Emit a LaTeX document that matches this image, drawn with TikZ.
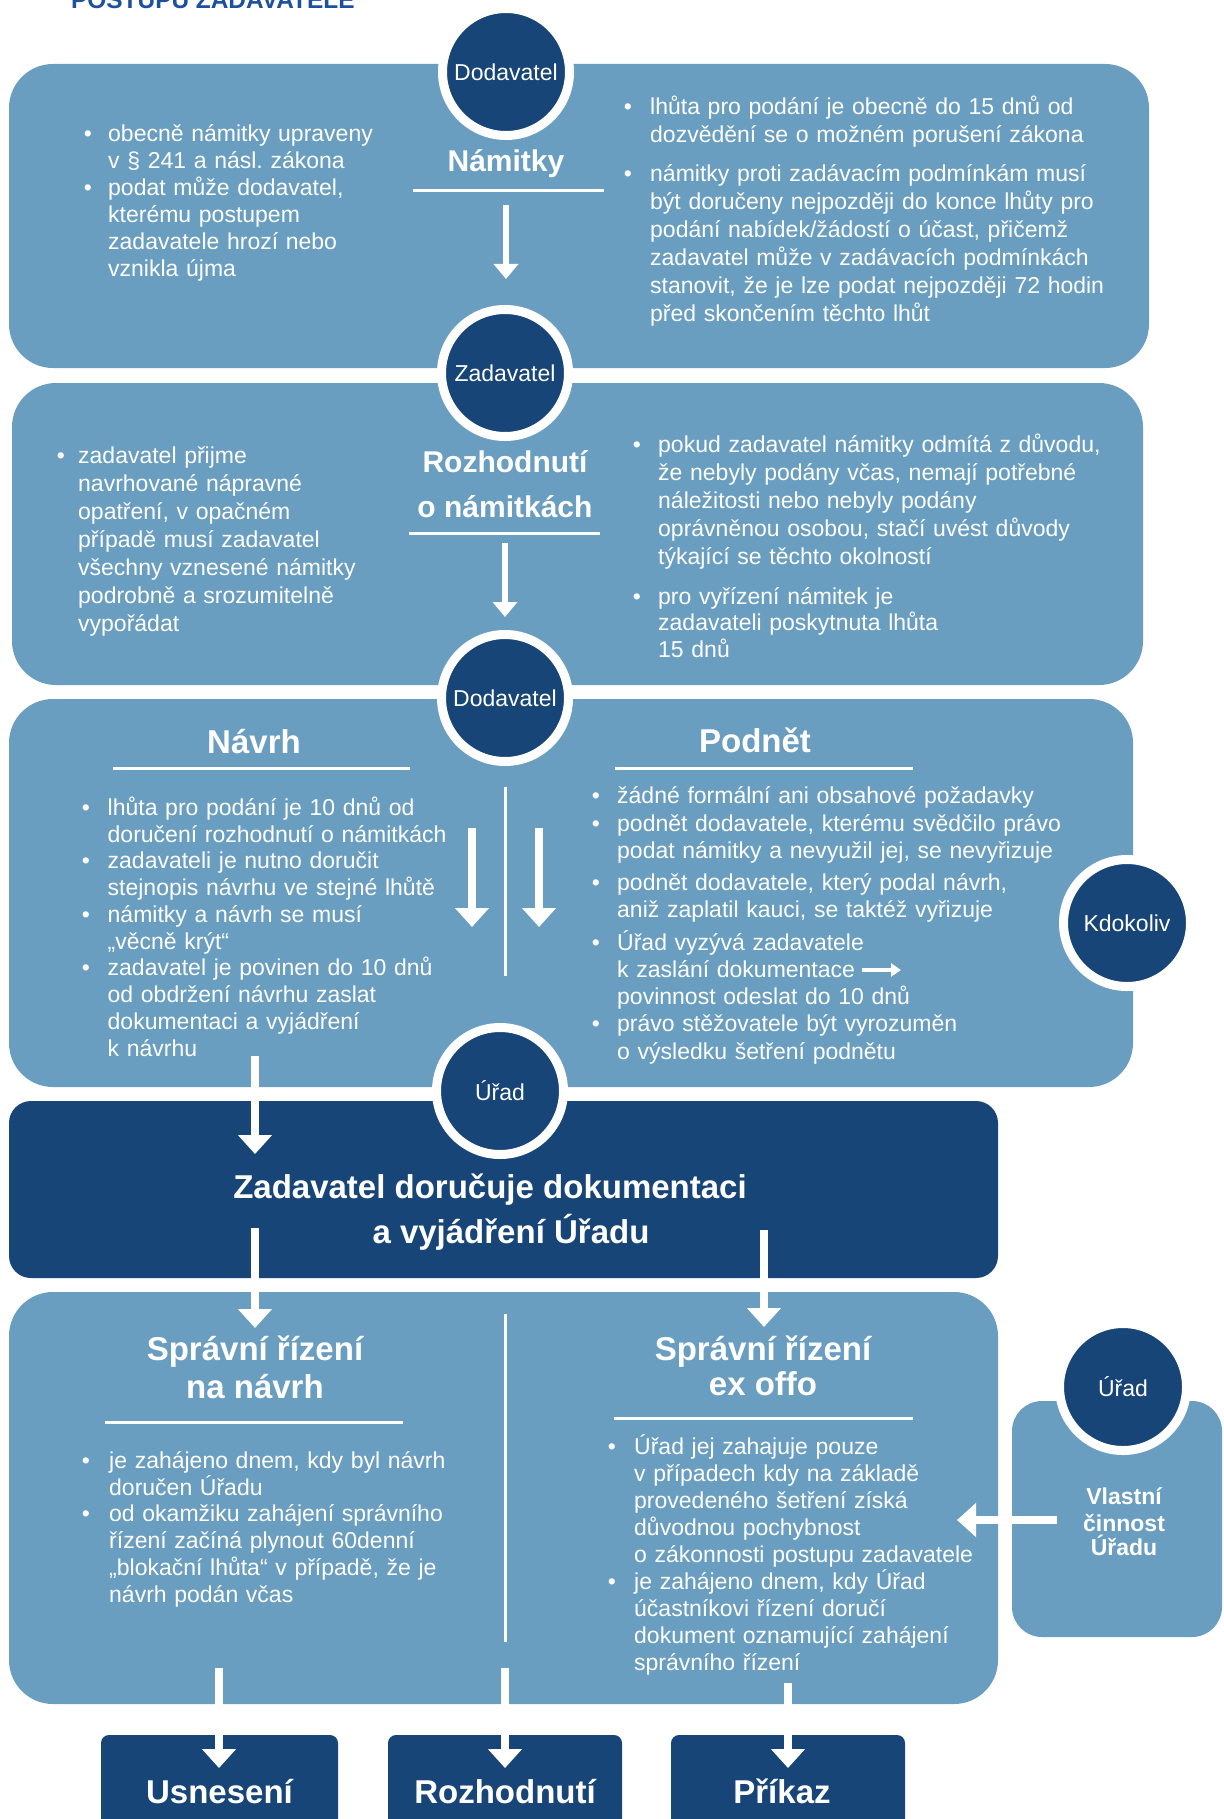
\documentclass[tikz,border=0pt]{standalone}
\usepackage{fontspec}
\setmainfont{Liberation Sans}
\usetikzlibrary{arrows.meta}
\definecolor{panelblue}{HTML}{6A9EC0}
\definecolor{navy}{HTML}{174577}
\definecolor{titleblue}{HTML}{1E50A0}
\tikzset{
  pnl/.style={fill=panelblue, rounded corners=44pt},
  darkpnl/.style={fill=navy, rounded corners=22pt},
  outbox/.style={fill=navy, rounded corners=8pt},
  actor/.style={circle, fill=navy, draw=white, line width=9pt, minimum size=127pt, inner sep=0pt, text=white, font=\fontsize{23}{27}\selectfont},
  bd/.style={text=white, inner sep=0pt, anchor=base west, align=left, text width=520pt, font=\fontsize{23}{27}\selectfont},
  bdb/.style={text=white, inner sep=0pt, anchor=base, font=\fontsize{23}{27}\selectfont},
  hd/.style={text=white, inner sep=0pt, anchor=base, font=\bfseries\fontsize{33}{38}\selectfont},
  hdS/.style={text=white, inner sep=0pt, anchor=base, font=\bfseries\fontsize{30}{36}\selectfont},
  hdV/.style={text=white, inner sep=0pt, anchor=base, font=\bfseries\fontsize{23}{27}\selectfont},
  wrule/.style={white, line width=3pt},
  arrS/.style={white, line width=6pt, -{Triangle[width=24pt,length=15pt]}},
  arrL/.style={white, line width=8pt, -{Triangle[width=33pt,length=19pt]}},
  arrT/.style={white, line width=4pt, -{Triangle[width=13pt,length=10pt]}},
  ls28/.style={font=\fontsize{23}{28}\selectfont},
  ls26/.style={font=\fontsize{23}{26.5}\selectfont},
}
\newcommand\bitemx[6][]{%
  \node[bdb,#1] (#2b) at (#3,#5) {\textbullet};
  \node[bd,#1] (#2) at (#4,#5) {#6};}
\begin{document}
\begin{tikzpicture}[x=1pt,y=-1pt]
\useasboundingbox (0,0) rectangle (1223,1819);
\clip (0,0) rectangle (1223,1819);

% title (cut off at top)
\node[anchor=base west, inner sep=0pt, text=titleblue, font=\bfseries\fontsize{24.4}{28}\selectfont] (title) at (71,8.5) {POSTUPU ZADAVATELE};

% panels
\path[pnl] (9,64) rectangle (1149,368);
\path[pnl] (12,383) rectangle (1143,685);
\path[pnl] (9,699) rectangle (1133,1087);
\path[darkpnl] (9,1101) rectangle (998,1278);
\path[pnl] (9,1292) rectangle (998,1704);
\path[pnl, rounded corners=30pt] (1012,1401) rectangle (1222,1637);
\path[outbox] (101,1735) rectangle (338,1845);
\path[outbox] (388,1735) rectangle (622,1845);
\path[outbox] (671,1735) rectangle (905,1845);

% actors
\node[actor] (dod1) at (506,72) {Dodavatel};
\node[actor] (zad) at (505,373) {Zadavatel};
\node[actor] (dod2) at (505,698) {Dodavatel};
\node[actor] (urad1) at (500,1091) {Úřad};
\node[actor] (kdo) at (1127,923) {Kdokoliv};
\node[actor] (urad2) at (1123,1387) {Úřad};

% headings and rules
\node[hdS] (namitky) at (506,172) {Námitky};
\draw[wrule] (413,191) -- (604,191);
\node[hdS] (rozh1) at (505,472) {Rozhodnutí};
\node[hdS] (rozh2) at (505,517) {o námitkách};
\draw[wrule] (409,533) -- (600,533);
\node[hd] (navrh) at (254,753) {Návrh};
\draw[wrule] (113,768) -- (410,768);
\node[hd] (podnet) at (755,752) {Podnět};
\draw[wrule] (615,768) -- (913,768);
\draw[wrule] (505,787) -- (505,976);
\node[hd] (zd1) at (490,1198) {Zadavatel doručuje dokumentaci};
\node[hd] (zd2) at (511,1243) {a vyjádření Úřadu};
\node[hd] (sr1) at (255,1360) {Správní řízení};
\node[hd] (sr2) at (255,1398) {na návrh};
\draw[wrule] (105,1422) -- (403,1422);
\node[hd] (so1) at (763,1360) {Správní řízení};
\node[hd] (so2) at (763,1395) {ex offo};
\draw[wrule] (614,1418) -- (913,1418);
\draw[wrule] (505,1314) -- (505,1642);
\node[hdV] (vl1) at (1124,1504) {Vlastní};
\node[hdV] (vl2) at (1124,1531) {činnost};
\node[hdV] (vl3) at (1124,1555) {Úřadu};
\node[hd] (usn) at (219.5,1803) {Usnesení};
\node[hd] (roz) at (505,1803) {Rozhodnutí};
\node[hd] (pri) at (782,1803) {Příkaz};

% panel 1 texts
\bitemx{p1a}{88}{108}{142}{obecně námitky upraveny\\v § 241 a násl.\ zákona}
\bitemx{p1b}{88}{108}{196}{podat může dodavatel,\\kterému postupem\\zadavatele hrozí nebo\\vznikla újma}
\bitemx[ls28]{p1c}{628}{650}{115}{lhůta pro podání je obecně do 15 dnů od\\dozvědění se o možném porušení zákona}
\bitemx[ls28]{p1d}{628}{650}{182}{námitky proti zadávacím podmínkám musí\\být doručeny nejpozději do konce lhůty pro\\podání nabídek/žádostí o účast, přičemž\\zadavatel může v zadávacích podmínkách\\stanovit, že je lze podat nejpozději 72 hodin\\před skončením těchto lhůt}

% panel 2 texts
\bitemx[ls28]{p2a}{61}{78}{463}{zadavatel přijme\\navrhované nápravné\\opatření, v opačném\\případě musí zadavatel\\všechny vznesené námitky\\podrobně a srozumitelně\\vypořádat}
\bitemx[ls28]{p2b}{637}{658}{452}{pokud zadavatel námitky odmítá z důvodu,\\že nebyly podány včas, nemají potřebné\\náležitosti nebo nebyly podány\\oprávněnou osobou, stačí uvést důvody\\týkající se těchto okolností}
\bitemx[ls26]{p2c}{637}{658}{604}{pro vyřízení námitek je\\zadavateli poskytnuta lhůta\\15 dnů}

% panel 3 texts
\bitemx{p3a}{86}{107.5}{815}{lhůta pro podání je 10 dnů od\\doručení rozhodnutí o námitkách}
\bitemx{p3b}{86}{107.5}{868.6}{zadavateli je nutno doručit\\stejnopis návrhu ve stejné lhůtě}
\bitemx{p3c}{86}{107.5}{922.2}{námitky a návrh se musí\\„věcně krýt“}
\bitemx{p3d}{86}{107.5}{975.8}{zadavatel je povinen do 10 dnů\\od obdržení návrhu zaslat\\dokumentaci a vyjádření\\k návrhu}
\bitemx{p3e}{596}{617}{803}{žádné formální ani obsahové požadavky}
\bitemx{p3f}{596}{617}{831}{podnět dodavatele, kterému svědčilo právo\\podat námitky a nevyužil jej, se nevyřizuje}
\bitemx{p3g}{596}{617}{890}{podnět dodavatele, který podal návrh,\\aniž zaplatil kauci, se taktéž vyřizuje}
\bitemx{p3h}{596}{617}{950}{Úřad vyzývá zadavatele\\k zaslání dokumentace\\povinnost odeslat do 10 dnů}
\bitemx[ls28]{p3i}{596}{617}{1031}{právo stěžovatele být vyrozuměn\\o výsledku šetření podnětu}
\coordinate (sa1) at (862,970);
\coordinate (sa2) at (901,970);
\draw[arrT] (sa1) -- (sa2);

% panel 4 texts
\bitemx{p4a}{86}{109}{1468}{je zahájeno dnem, kdy byl návrh\\doručen Úřadu}
\bitemx{p4b}{86}{109}{1521}{od okamžiku zahájení správního\\řízení začíná plynout 60denní\\„blokační lhůta“ v případě, že je\\návrh podán včas}
\bitemx{p4c}{612}{634}{1454}{Úřad jej zahajuje pouze\\v případech kdy na základě\\provedeného šetření získá\\důvodnou pochybnost\\o zákonnosti postupu zadavatele}
\bitemx{p4d}{612}{634}{1589}{je zahájeno dnem, kdy Úřad\\účastníkovi řízení doručí\\dokument oznamující zahájení\\správního řízení}

% arrows
\coordinate (a1s) at (506,205);  \coordinate (a1e) at (506,279);
\coordinate (a2s) at (505,543);  \coordinate (a2e) at (505,617);
\coordinate (a3s) at (472,828);  \coordinate (a3e) at (472,927);
\coordinate (a4s) at (539,828);  \coordinate (a4e) at (539,927);
\coordinate (a5s) at (255,1056); \coordinate (a5e) at (255,1154);
\coordinate (a6s) at (255,1228); \coordinate (a6e) at (255,1328);
\coordinate (a7s) at (764,1230); \coordinate (a7e) at (764,1327);
\coordinate (a8s) at (1057,1520); \coordinate (a8e) at (957,1520);
\coordinate (b1s) at (219,1668); \coordinate (b1e) at (219,1768);
\coordinate (b2s) at (505,1668); \coordinate (b2e) at (505,1768);
\coordinate (b3s) at (788,1683); \coordinate (b3e) at (788,1768);
\draw[arrS] (a1s) -- (a1e);
\draw[arrS] (a2s) -- (a2e);
\draw[arrL] (a3s) -- (a3e);
\draw[arrL] (a4s) -- (a4e);
\draw[arrL] (a5s) -- (a5e);
\draw[arrL] (a6s) -- (a6e);
\draw[arrL] (a7s) -- (a7e);
\draw[arrL] (a8s) -- (a8e);
\draw[arrL] (b1s) -- (b1e);
\draw[arrL] (b2s) -- (b2e);
\draw[arrL] (b3s) -- (b3e);
\end{tikzpicture}
\end{document}
